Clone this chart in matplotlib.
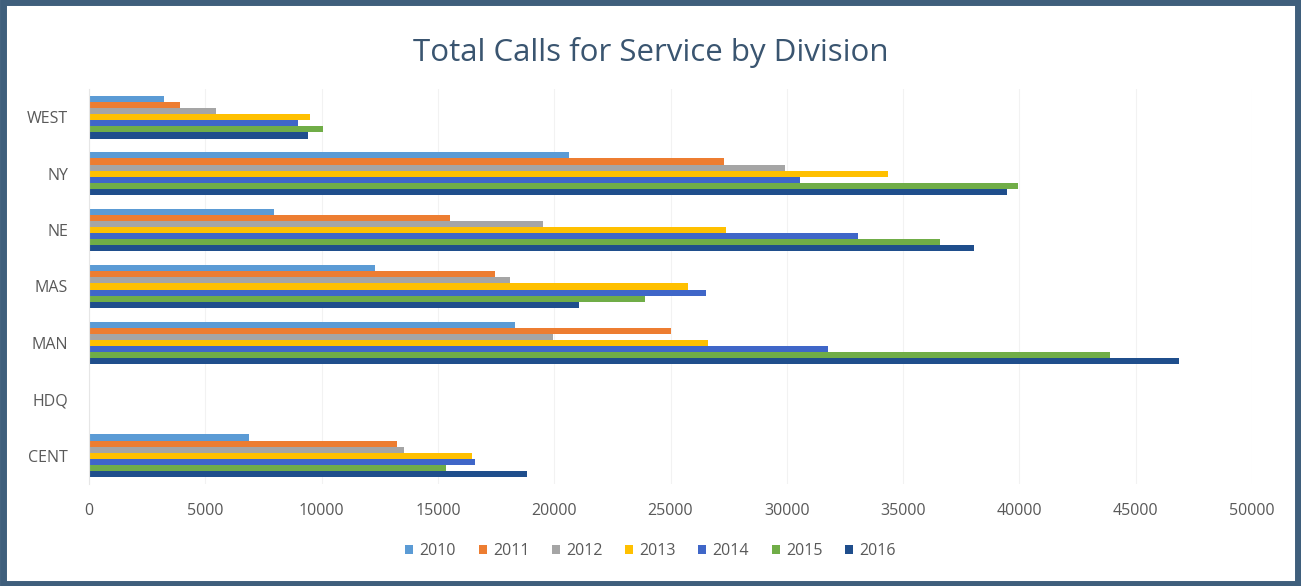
import matplotlib.pyplot as plt
from matplotlib.patches import Rectangle
import numpy as np

# divisions listed bottom -> top, as drawn
divisions = ["CENT", "HDQ", "MAN", "MAS", "NE", "NY", "WEST"]
years = ["2010", "2011", "2012", "2013", "2014", "2015", "2016"]

calls_2010 = [6880, 30, 18310, 12300, 7950, 20640, 3220]
calls_2011 = [13240, 30, 25020, 17460, 15520, 27300, 3910]
calls_2012 = [13540, 30, 19950, 18100, 19520, 29920, 5460]
calls_2013 = [16470, 30, 26610, 25750, 27390, 34350, 9500]
calls_2014 = [16600, 30, 31770, 26530, 33060, 30570, 8990]
calls_2015 = [15350, 30, 43900, 23900, 36590, 39940, 10060]
calls_2016 = [18830, 30, 46860, 21070, 38050, 39470, 9420]

series = [calls_2010, calls_2011, calls_2012, calls_2013,
          calls_2014, calls_2015, calls_2016]
colors = ["#5B9BD5", "#ED7D31", "#A5A5A5", "#FFC000",
          "#3F66C8", "#70AD47", "#1F4E8C"]

xticks = np.arange(0, 50001, 5000)

fig = plt.figure(figsize=(13.01, 5.86), dpi=100)
ax = fig.add_axes([89 / 1301, 1 - 484 / 586, (1252 - 89) / 1301, 395 / 586])

y = np.arange(len(divisions))
h = 0.108
for j, (vals, col) in enumerate(zip(series, colors)):
    ax.barh(y + (3 - j) * h, vals, height=h, color=col, label=years[j],
            edgecolor="none")

ax.set_xlim(0, 50000)
ax.set_ylim(-0.5, len(divisions) - 0.5)
ax.set_xticks(xticks)
ax.set_xticklabels([str(v) for v in xticks])
ax.set_yticks(y)
ax.set_yticklabels(divisions)
ax.tick_params(length=0, labelsize=11.5, labelcolor="#595959", pad=14)
ax.tick_params(axis="y", pad=15)
for lab in ax.get_xticklabels() + ax.get_yticklabels():
    lab.set_family("Open Sans")
ax.grid(axis="x", color="#f2f2f2", linewidth=0.8)
ax.set_axisbelow(True)
for s in ["top", "right", "bottom"]:
    ax.spines[s].set_visible(False)
ax.spines["left"].set_color("#e6e6e6")

fig.text(0.5, 1 - 52 / 586, "Total Calls for Service by Division",
         ha="center", va="center", fontsize=22.5, color="#3A5570",
         family="Open Sans")

leg = fig.legend(loc="center", bbox_to_anchor=(0.5, 1 - 551 / 586), ncol=7,
                 frameon=False, handlelength=0.5, handleheight=0.5,
                 handletextpad=0.4, columnspacing=1.4,
                 prop={"family": "Open Sans", "size": 11.5})
for t in leg.get_texts():
    t.set_color("#595959")

fig.patches.append(Rectangle((0.002, 0.004), 0.996, 0.992, fill=False,
                             edgecolor="#3F5F7C", linewidth=5,
                             transform=fig.transFigure, figure=fig))

fig.savefig("out.png", dpi=100, facecolor="white")
